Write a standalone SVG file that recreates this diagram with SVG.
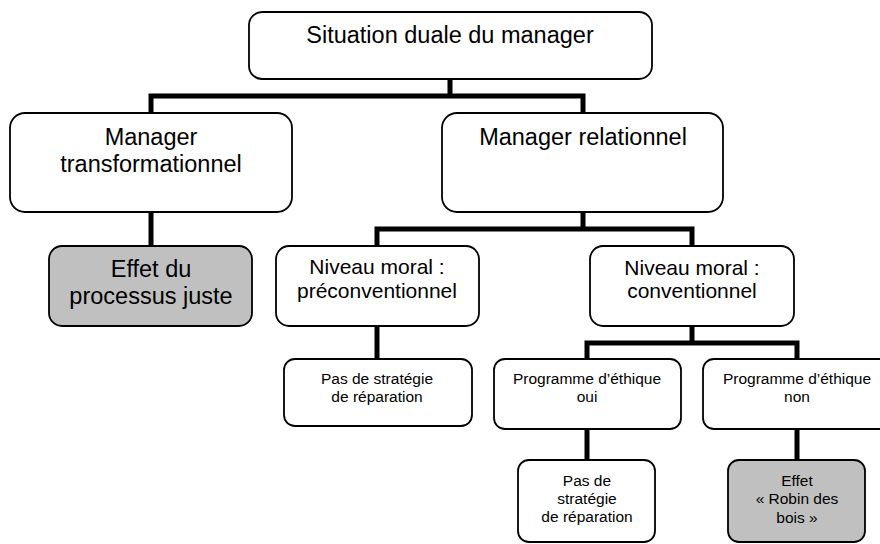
<svg xmlns="http://www.w3.org/2000/svg" width="880" height="544" viewBox="0 0 880 544">
<style>
.box{fill:#fff;stroke:#000;stroke-width:1.8}
.grey{fill:#c0c0c0}
.t{font-family:"Liberation Sans",Arial,sans-serif;fill:#000;text-anchor:middle}
.l{font-size:23.5px}
.m{font-size:21px}
.s{font-size:15.5px}
.c{fill:none;stroke:#000;stroke-width:5;stroke-linejoin:miter;stroke-linecap:butt}
</style>
<rect width="880" height="544" fill="#fff"/>
<g id="connectors">
<path class="c" d="M450,79V96M151,113V96H583V113"/>
<path class="c" d="M151,212V246"/>
<path class="c" d="M583,212V229M377,246V229H692V246"/>
<path class="c" d="M377,326V359"/>
<path class="c" d="M692,326V343M587,359V343H797V359"/>
<path class="c" d="M587,429V460"/>
<path class="c" d="M797,429V460"/>
</g>
<g id="n-top">
<rect class="box" x="249" y="12" width="403" height="67" rx="13"/>
<text class="t l" x="450" y="43">Situation duale du manager</text>
</g>
<g id="n-transfo">
<rect class="box" x="10" y="113" width="282" height="99" rx="15"/>
<text class="t l" x="151" y="145">Manager</text>
<text class="t l" x="151" y="172">transformationnel</text>
</g>
<g id="n-relation">
<rect class="box" x="442" y="113" width="281" height="99" rx="15"/>
<text class="t l" x="583" y="145">Manager relationnel</text>
</g>
<g id="n-effet-juste">
<rect class="box grey" x="49" y="246" width="203" height="80" rx="13"/>
<text class="t l" x="151" y="277">Effet du</text>
<text class="t l" x="151" y="304">processus juste</text>
</g>
<g id="n-preconv">
<rect class="box" x="276" y="246" width="203" height="80" rx="13"/>
<text class="t m" x="377" y="274">Niveau moral :</text>
<text class="t m" x="377" y="298">préconventionnel</text>
</g>
<g id="n-conv">
<rect class="box" x="590" y="246" width="204" height="80" rx="13"/>
<text class="t m" x="692" y="275">Niveau moral :</text>
<text class="t m" x="692" y="298">conventionnel</text>
</g>
<g id="n-pas1">
<rect class="box" x="284" y="359" width="188" height="67" rx="11"/>
<text class="t s" x="377" y="384">Pas de stratégie</text>
<text class="t s" x="377" y="402">de réparation</text>
</g>
<g id="n-oui">
<rect class="box" x="494" y="359" width="187" height="70" rx="11"/>
<text class="t s" x="587" y="384">Programme d’éthique</text>
<text class="t s" x="587" y="402">oui</text>
</g>
<g id="n-non">
<rect class="box" x="703" y="359" width="188" height="70" rx="11"/>
<text class="t s" x="797" y="384">Programme d’éthique</text>
<text class="t s" x="797" y="402">non</text>
</g>
<g id="n-pas2">
<rect class="box" x="518" y="460" width="137" height="82" rx="11"/>
<text class="t s" x="587" y="486">Pas de</text>
<text class="t s" x="587" y="504">stratégie</text>
<text class="t s" x="587" y="522">de réparation</text>
</g>
<g id="n-robin">
<rect class="box grey" x="728" y="460" width="137" height="82" rx="11"/>
<text class="t s" x="797" y="486">Effet</text>
<text class="t s" x="797" y="504">« Robin des</text>
<text class="t s" x="797" y="523">bois »</text>
</g>
</svg>
